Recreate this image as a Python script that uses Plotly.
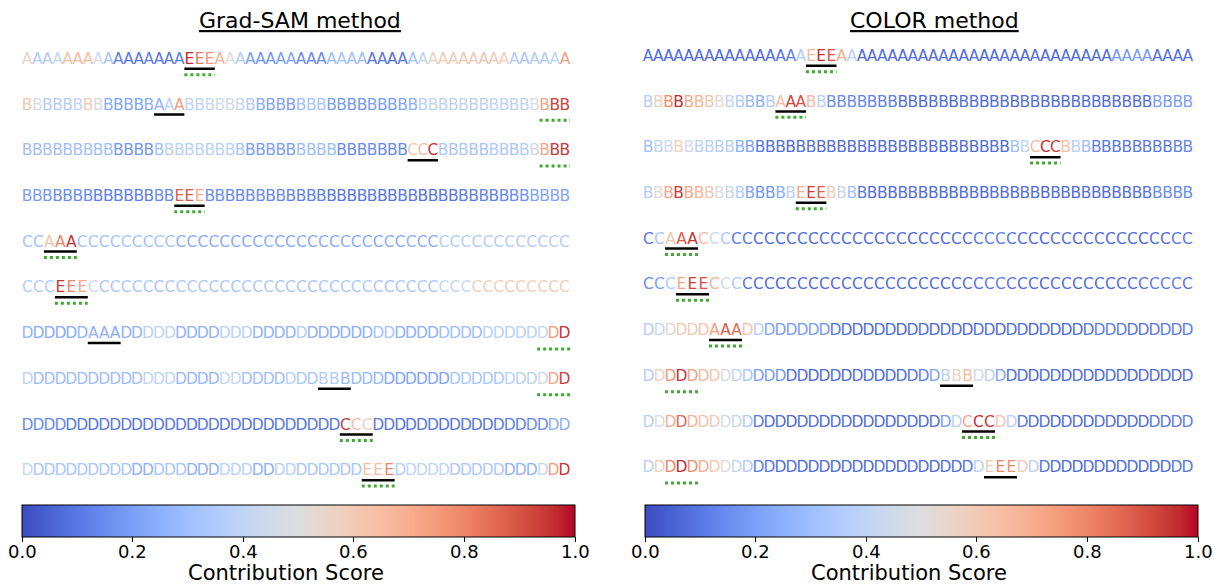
import plotly.graph_objects as go
from plotly.colors import sample_colorscale

# ---------------- data ----------------
# token sequences (one string per row)
gradsam_sequences = [
    "A" * 16 + "EEE" + "A" * 35,
    "B" * 13 + "AAA" + "B" * 38,
    "B" * 38 + "CCC" + "B" * 13,
    "B" * 15 + "EEE" + "B" * 36,
    "CC" + "AAA" + "C" * 45,
    "CCC" + "EEE" + "C" * 44,
    "D" * 6 + "AAA" + "D" * 41,
    "D" * 27 + "BBB" + "D" * 20,
    "D" * 29 + "CCC" + "D" * 18,
    "D" * 31 + "EEE" + "D" * 16,
]
color_sequences = list(gradsam_sequences)

# contribution scores per token, Grad-SAM method
gradsam_r1 = [.55, .35, .35, .42, .64, .66, .64, .47, .33, .12, .10, .10, .12, .10, .10, .12,
              .96, .82, .76, .68, .50, .36, .20, .18, .18, .20, .22, .15, .15, .15, .30, .32,
              .30, .30, .10, .10, .08, .10, .30, .40, .56, .60, .60, .62, .60, .62, .60, .58,
              .36, .34, .36, .36, .40, .74]
gradsam_r2 = [.60, .50, .36, .36, .36, .40, .60, .45, .25, .22, .22, .22, .25, .26, .38, .74,
              .40, .40, .42, .45, .45, .42, .36, .25, .22, .22, .20, .30, .33, .33, .20, .20,
              .18, .18, .20, .20, .20, .22, .25, .38, .40, .38, .38, .40, .38, .38, .40, .40,
              .38, .40, .48, .72, .93, .93]
gradsam_r3 = [.30, .30, .32, .30, .30, .30, .32, .30, .30, .18, .18, .18, .18, .30, .38, .38,
              .38, .38, .38, .38, .38, .33, .20, .20, .20, .20, .20, .30, .30, .30, .30, .15,
              .15, .15, .15, .15, .15, .15, .60, .66, .95, .33, .33, .35, .33, .33, .35, .35,
              .33, .36, .45, .72, .94, .94]
gradsam_r4 = [.20, .20, .18, .15, .15, .15, .15, .12, .12, .12, .12, .12, .12, .15, .15, .88,
              .90, .70, .15, .16, .15, .14, .15, .15, .14, .15, .13, .13, .12, .12, .10, .10,
              .09, .10, .10, .09, .10, .10, .10, .09, .10, .10, .10, .11, .11, .13, .13, .14,
              .15, .17, .22, .22, .22, .22]
gradsam_r5 = [.32, .30, .62, .80, .95, .32, .32, .31, .32, .33, .32, .31, .32, .32, .25, .24,
              .24, .25, .24, .24, .23, .24, .25, .24, .24, .24, .23, .24, .24, .25, .24, .24,
              .23, .24, .24, .25, .24, .24, .36, .36, .37, .36, .36, .36, .37, .36, .36, .36,
              .37, .36]
gradsam_r6 = [.36, .36, .36, .95, .80, .72, .45, .34, .34, .35, .34, .34, .33, .34, .34, .35,
              .34, .34, .34, .33, .34, .34, .35, .34, .34, .34, .33, .34, .34, .35, .34, .34,
              .34, .33, .34, .34, .35, .34, .42, .42, .43, .57, .58, .58, .57, .58, .58, .57,
              .58, .58]
gradsam_r7 = [.26, .24, .24, .24, .24, .26, .26, .26, .24, .26, .26, .38, .40, .40, .26, .26,
              .26, .26, .38, .38, .38, .26, .26, .26, .26, .36, .25, .25, .25, .25, .25, .25,
              .32, .32, .25, .25, .25, .25, .30, .30, .30, .30, .38, .38, .38, .38, .38, .42,
              .74, .95]
gradsam_r8 = [.40, .30, .30, .30, .30, .30, .30, .30, .30, .30, .30, .40, .40, .40, .28, .28,
              .28, .28, .42, .42, .30, .30, .30, .30, .38, .33, .33, .36, .36, .28, .28, .28,
              .28, .22, .22, .22, .22, .22, .22, .33, .33, .33, .33, .33, .38, .38, .38, .45,
              .72, .93]
gradsam_r9 = [.15, .15, .15, .15, .10, .10, .09, .10, .10, .10, .09, .10, .10, .10, .10, .09,
              .10, .10, .10, .10, .09, .10, .10, .10, .10, .09, .10, .10, .10, .93, .65, .55,
              .10, .10, .09, .10, .10, .10, .09, .10, .10, .10, .10, .11, .12, .12, .15, .15,
              .25, .25]
gradsam_r10 = [.42, .33, .33, .33, .33, .33, .33, .33, .33, .33, .25, .25, .33, .33, .33, .25,
               .25, .25, .38, .38, .38, .25, .25, .38, .38, .33, .33, .33, .33, .33, .33, .64,
               .64, .80, .36, .40, .40, .40, .40, .34, .34, .34, .34, .34, .26, .26, .26, .42,
               .74, .95]

# contribution scores per token, COLOR method
color_r1 = [.08, .07, .07, .08, .07, .07, .08, .07, .07, .08, .08, .07, .08, .10, .12, .36,
            .66, .96, .90, .70, .38, .07, .07, .08, .07, .07, .08, .07, .07, .08, .07, .07,
            .08, .07, .07, .08, .07, .07, .08, .07, .07, .08, .07, .07, .08, .07, .18, .18,
            .20, .18, .08, .08, .08, .08]
color_r2 = [.36, .58, .78, .96, .72, .68, .62, .52, .40, .36, .28, .25, .36, .64, .93, .90,
            .66, .38, .16, .15, .15, .14, .13, .12, .12, .08, .08, .07, .08, .08, .07, .08,
            .08, .07, .08, .08, .07, .08, .08, .07, .08, .08, .07, .08, .08, .07, .08, .08,
            .08, .08, .20, .20, .20, .20]
color_r3 = [.30, .40, .45, .58, .45, .38, .38, .36, .36, .25, .20, .10, .08, .08, .07, .08,
            .08, .07, .08, .08, .07, .08, .08, .07, .08, .08, .07, .08, .08, .07, .08, .08,
            .07, .08, .08, .07, .30, .40, .66, .96, .93, .64, .38, .30, .12, .10, .10, .10,
            .10, .10, .10, .10, .12, .14]
color_r4 = [.36, .52, .72, .94, .72, .68, .62, .50, .42, .36, .22, .18, .18, .25, .38, .70,
            .94, .88, .60, .42, .30, .10, .08, .08, .07, .08, .08, .07, .08, .08, .07, .08,
            .08, .07, .08, .08, .07, .08, .08, .07, .08, .08, .07, .08, .08, .07, .08, .08,
            .08, .09, .15, .15, .15, .15]
color_r5 = [.10, .33, .62, .88, .95, .66, .45, .35, .12, .10, .08, .08, .07, .08, .08, .07,
            .08, .08, .07, .08, .08, .07, .08, .08, .07, .08, .08, .07, .08, .08, .10, .12,
            .12, .10, .08, .08, .07, .08, .08, .07, .08, .08, .07, .08, .08, .07, .08, .08,
            .10, .10]
color_r6 = [.15, .20, .36, .72, .93, .90, .68, .45, .35, .10, .08, .08, .07, .08, .08, .07,
            .08, .08, .07, .08, .08, .07, .08, .08, .07, .08, .08, .07, .08, .08, .10, .12,
            .12, .10, .08, .08, .07, .08, .08, .07, .08, .08, .07, .08, .08, .10, .12, .12,
            .12, .10]
color_r7 = [.36, .42, .52, .60, .60, .62, .74, .88, .85, .62, .38, .22, .20, .20, .20, .20,
            .18, .10, .08, .08, .07, .08, .08, .07, .08, .08, .07, .08, .08, .07, .08, .08,
            .07, .08, .08, .07, .08, .08, .07, .08, .10, .12, .12, .12, .10, .10, .10, .12,
            .12, .12]
color_r8 = [.36, .56, .76, .95, .74, .66, .60, .48, .40, .33, .20, .20, .18, .08, .08, .07,
            .08, .08, .07, .08, .08, .07, .08, .08, .10, .12, .22, .38, .55, .65, .47, .38,
            .22, .08, .08, .07, .08, .08, .07, .08, .08, .07, .08, .08, .07, .08, .08, .08,
            .08, .08]
color_r9 = [.36, .48, .70, .86, .68, .63, .60, .48, .42, .35, .10, .08, .08, .07, .08, .08,
            .07, .08, .08, .07, .08, .08, .07, .08, .08, .07, .08, .20, .38, .72, .96, .94,
            .62, .38, .10, .08, .08, .07, .08, .08, .07, .08, .08, .07, .08, .08, .10, .10,
            .12, .12]
color_r10 = [.38, .58, .80, .96, .78, .70, .60, .50, .42, .35, .12, .10, .08, .08, .07, .08,
             .08, .07, .08, .08, .07, .08, .08, .07, .08, .08, .07, .08, .08, .10, .38, .60,
             .80, .78, .60, .38, .10, .08, .08, .07, .08, .08, .07, .08, .08, .07, .08, .08,
             .10, .10]

gradsam_scores = [gradsam_r1, gradsam_r2, gradsam_r3, gradsam_r4, gradsam_r5,
                  gradsam_r6, gradsam_r7, gradsam_r8, gradsam_r9, gradsam_r10]
color_scores = [color_r1, color_r2, color_r3, color_r4, color_r5,
                color_r6, color_r7, color_r8, color_r9, color_r10]

# highlighted token spans (first index, last index) per row
gradsam_solid = [(16, 18), (13, 15), (38, 40), (15, 17), (2, 4),
                 (3, 5), (6, 8), (27, 29), (29, 31), (31, 33)]
gradsam_dotted = [[(16, 18)], [(51, 53)], [(51, 53)], [(15, 17)], [(2, 4)],
                  [(3, 5)], [(47, 49)], [(47, 49)], [(29, 31)], [(31, 33)]]
color_solid = [(16, 18), (13, 15), (38, 40), (15, 17), (2, 4),
               (3, 5), (6, 8), (27, 29), (29, 31), (31, 33)]
color_dotted = [[(16, 18)], [(13, 15)], [(38, 40)], [(15, 17)], [(2, 4)],
                [(3, 5)], [(6, 8)], [(2, 4)], [(29, 31)], [(2, 4)]]

panel_titles = ["Grad-SAM method", "COLOR method"]
colorbar_ticks = [0.0, 0.2, 0.4, 0.6, 0.8, 1.0]
colorbar_ticktext = ["0.0", "0.2", "0.4", "0.6", "0.8", "1.0"]
colorbar_title = "Contribution Score"

# ---------------- style ----------------
COOLWARM = [
    [0.0, "rgb(59,76,192)"], [0.03125, "rgb(68,90,204)"], [0.0625, "rgb(77,104,215)"],
    [0.09375, "rgb(87,117,225)"], [0.125, "rgb(98,130,234)"], [0.15625, "rgb(108,142,241)"],
    [0.1875, "rgb(119,154,247)"], [0.21875, "rgb(130,165,251)"], [0.25, "rgb(141,176,254)"],
    [0.28125, "rgb(152,185,255)"], [0.3125, "rgb(163,194,255)"], [0.34375, "rgb(174,201,253)"],
    [0.375, "rgb(184,208,249)"], [0.40625, "rgb(194,213,244)"], [0.4375, "rgb(204,217,238)"],
    [0.46875, "rgb(213,219,230)"], [0.5, "rgb(221,221,221)"], [0.53125, "rgb(229,216,209)"],
    [0.5625, "rgb(236,211,197)"], [0.59375, "rgb(241,204,184)"], [0.625, "rgb(245,196,172)"],
    [0.65625, "rgb(247,187,160)"], [0.6875, "rgb(247,177,148)"], [0.71875, "rgb(247,166,137)"],
    [0.75, "rgb(244,154,123)"], [0.78125, "rgb(241,141,111)"], [0.8125, "rgb(236,127,99)"],
    [0.84375, "rgb(229,112,88)"], [0.875, "rgb(222,96,77)"], [0.90625, "rgb(213,80,66)"],
    [0.9375, "rgb(203,62,56)"], [0.96875, "rgb(192,40,47)"], [1.0, "rgb(180,4,38)"],
]
FONT = "DejaVu Sans"
W, H = 1215, 585
TEXT_DY = 0.0
UNDERLINE_OFF = 0.19
DOTTED_OFF = 0.32
GREEN = "#3fab33"
CB_TITLE_SHIFT = -13

fig = go.Figure()


def add_panel(seqs, scores, solid, dotted, xa, ya):
    xs, ys, txt, cols = [], [], [], []
    for r, (seq, sc) in enumerate(zip(seqs, scores), start=1):
        n = len(seq)
        for i, ch in enumerate(seq):
            xs.append((i + 0.5) / n)
            ys.append(r + TEXT_DY)
            txt.append(ch)
        cols += sample_colorscale(COOLWARM, sc[:n])
    fig.add_trace(go.Scatter(x=xs, y=ys, mode="text", text=txt, textposition="middle center",
                             textfont=dict(family=FONT, size=15.5, color=cols),
                             xaxis=xa, yaxis=ya, hoverinfo="skip", cliponaxis=False))
    lx, ly = [], []
    for r, (a, b) in enumerate(solid, start=1):
        n = len(seqs[r - 1])
        lx += [a / n, (b + 1) / n, None]
        ly += [r + UNDERLINE_OFF, r + UNDERLINE_OFF, None]
    fig.add_trace(go.Scatter(x=lx, y=ly, mode="lines", line=dict(color="black", width=2.5),
                             xaxis=xa, yaxis=ya, hoverinfo="skip", cliponaxis=False))
    dx, dy = [], []
    for r, spans in enumerate(dotted, start=1):
        n = len(seqs[r - 1])
        for (a, b) in spans:
            dx += [a / n, (b + 1) / n, None]
            dy += [r + DOTTED_OFF, r + DOTTED_OFF, None]
    fig.add_trace(go.Scatter(x=dx, y=dy, mode="lines", line=dict(color=GREEN, width=3, dash="dot"),
                             xaxis=xa, yaxis=ya, hoverinfo="skip", cliponaxis=False))


add_panel(gradsam_sequences, gradsam_scores, gradsam_solid, gradsam_dotted, "x", "y")
add_panel(color_sequences, color_scores, color_solid, color_dotted, "x2", "y2")


def colorbar_trace(left_px, right_px, xa, ya):
    return go.Scatter(
        x=[None], y=[None], mode="markers", xaxis=xa, yaxis=ya, hoverinfo="skip",
        marker=dict(color=[0.5], colorscale=COOLWARM, cmin=0, cmax=1, showscale=True,
                    colorbar=dict(
                        orientation="h", x=(left_px + right_px) / 2 / W, xanchor="center",
                        y=1 - 505 / H, yanchor="top", len=(right_px - left_px) / W,
                        lenmode="fraction", thickness=32, thicknessmode="pixels",
                        xpad=0, ypad=0, outlinewidth=1, outlinecolor="black",
                        ticks="outside", ticklen=5, tickwidth=1, tickcolor="black",
                        tickvals=colorbar_ticks, showticklabels=False,
                    )))


cb_spans = [(22, 575), (645, 1198)]
fig.add_trace(colorbar_trace(*cb_spans[0], "x", "y"))
fig.add_trace(colorbar_trace(*cb_spans[1], "x2", "y2"))

for title, cx in zip(panel_titles, [300, 934]):
    fig.add_annotation(text=title, x=cx / W, y=1 - 21 / H, xref="paper", yref="paper",
                       showarrow=False, xanchor="center", yanchor="middle",
                       font=dict(family=FONT, size=22, color="black", lineposition="under"))
for (l, r) in cb_spans:
    for t, lab in zip(colorbar_ticks, colorbar_ticktext):
        fig.add_annotation(text=lab, x=(l + t * (r - l)) / W, y=1 - 551 / H,
                           xref="paper", yref="paper", showarrow=False,
                           xanchor="center", yanchor="middle",
                           font=dict(family=FONT, size=18, color="black"))
    fig.add_annotation(text=colorbar_title, x=((l + r) / 2 + CB_TITLE_SHIFT) / W, y=1 - 573 / H,
                       xref="paper", yref="paper", showarrow=False,
                       xanchor="center", yanchor="middle",
                       font=dict(family=FONT, size=21, color="black"))

fig.update_layout(
    width=W, height=H, margin=dict(l=0, r=0, t=0, b=0, autoexpand=False),
    paper_bgcolor="white", plot_bgcolor="white", showlegend=False,
    xaxis=dict(domain=[22 / W, 570 / W], range=[0, 1], visible=False),
    yaxis=dict(domain=[1 - 494.34 / H, 1 - 37.14 / H], range=[10.5, 0.5], visible=False),
    xaxis2=dict(domain=[643 / W, 1193 / W], range=[0, 1], visible=False, anchor="y2"),
    yaxis2=dict(domain=[1 - 491.34 / H, 1 - 34.14 / H], range=[10.5, 0.5], visible=False,
                anchor="x2"),
)

fig.write_html("out.html", config={"displayModeBar": False},
               post_script="document.body.style.margin='0';document.body.style.padding='0';")
